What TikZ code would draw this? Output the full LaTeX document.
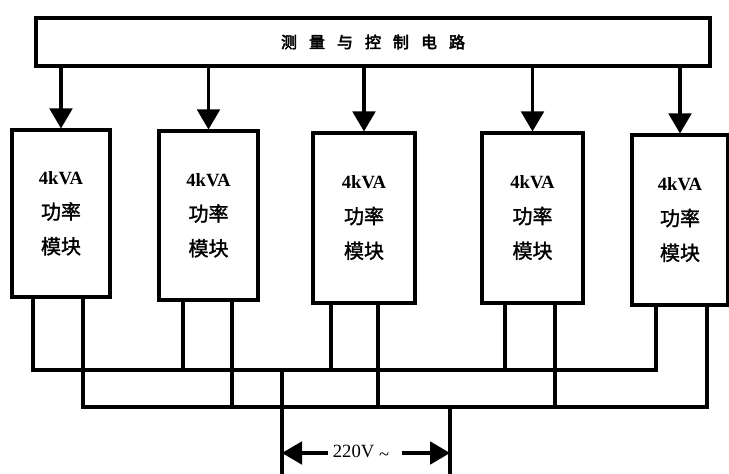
\documentclass[tikz,border=0pt]{standalone}
\usepackage{fontspec}
\setmainfont{Liberation Serif}
\newfontfamily\cjkt{Noto Sans CJK SC}[FakeBold=3]
\newfontfamily\cjk{Noto Sans CJK SC}[FakeBold=1.5]
\usetikzlibrary{arrows.meta}
\begin{document}
\begin{tikzpicture}[x=0.75pt,y=-0.75pt,
  box/.style={draw, line width=2.3pt, inner sep=0pt, align=center},
  blocktxt/.style={font=\cjk\fontsize{15}{26}\selectfont},
  arr/.style={line width=2.3pt, -{Triangle[length=15pt,width=17pt]}},
  wire/.style={line width=2.3pt, line join=miter}]
\useasboundingbox (0,0) rectangle (729,474);

% control box
\node[box, minimum width=674*0.75pt, minimum height=48*0.75pt,
      font=\cjkt\fontsize{12}{12}\selectfont] (ctrl) at (373,42)
  {测\hspace{9pt}量\hspace{9pt}与\hspace{9pt}控\hspace{9pt}制\hspace{9pt}电\hspace{9pt}路};

% power modules
\newcommand{\modtext}{{\rmfamily\bfseries\fontsize{14}{26}\selectfont 4kVA}\\功率\\模块}
\node[box, blocktxt, minimum width=98*0.75pt,  minimum height=167*0.75pt] (b1) at (61,213.5) {\modtext};
\node[box, blocktxt, minimum width=99*0.75pt,  minimum height=169*0.75pt] (b2) at (208.5,215.5) {\modtext};
\node[box, blocktxt, minimum width=102*0.75pt, minimum height=170*0.75pt] (b3) at (364,218) {\modtext};
\node[box, blocktxt, minimum width=101*0.75pt, minimum height=170*0.75pt] (b4) at (532.5,218) {\modtext};
\node[box, blocktxt, minimum width=96*0.75pt,  minimum height=170*0.75pt] (b5) at (680,220) {\modtext};

% control arrows
\foreach \i in {1,...,5}
  \draw[arr] (ctrl.south -| b\i.north) -- (b\i.north);

% bus coordinates
\coordinate (a1) at (33,370);  \coordinate (c1) at (83,407);
\coordinate (a2) at (183,370); \coordinate (c2) at (232,407);
\coordinate (a3) at (331,370); \coordinate (c3) at (378,407);
\coordinate (a4) at (505,370); \coordinate (c4) at (555,407);
\coordinate (a5) at (656,370); \coordinate (c5) at (707,407);

\draw[wire] (b1.south -| a1) -- (a1) -- (a5) -- (b5.south -| a5);
\draw[wire] (b1.south -| c1) -- (c1) -- (c5) -- (b5.south -| c5);
\foreach \i in {2,3,4} {
  \draw[wire] (b\i.south -| a\i) -- (a\i);
  \draw[wire] (b\i.south -| c\i) -- (c\i);
}

% supply
\coordinate (s1) at (282,370); \coordinate (s1e) at (282,474);
\coordinate (s2) at (450,407); \coordinate (s2e) at (450,474);
\draw[wire] (s1) -- (s1e);
\draw[wire] (s2) -- (s2e);
\node[font=\fontsize{14}{14}\selectfont, inner sep=3.5pt] (v) at (361,453) {220V \raisebox{-2pt}{\textasciitilde}};
\draw[arr] (v.west) -- (s1 |- v.west);
\draw[arr] ([xshift=6pt]v.east) -- (s2 |- v.east);
\end{tikzpicture}
\end{document}
